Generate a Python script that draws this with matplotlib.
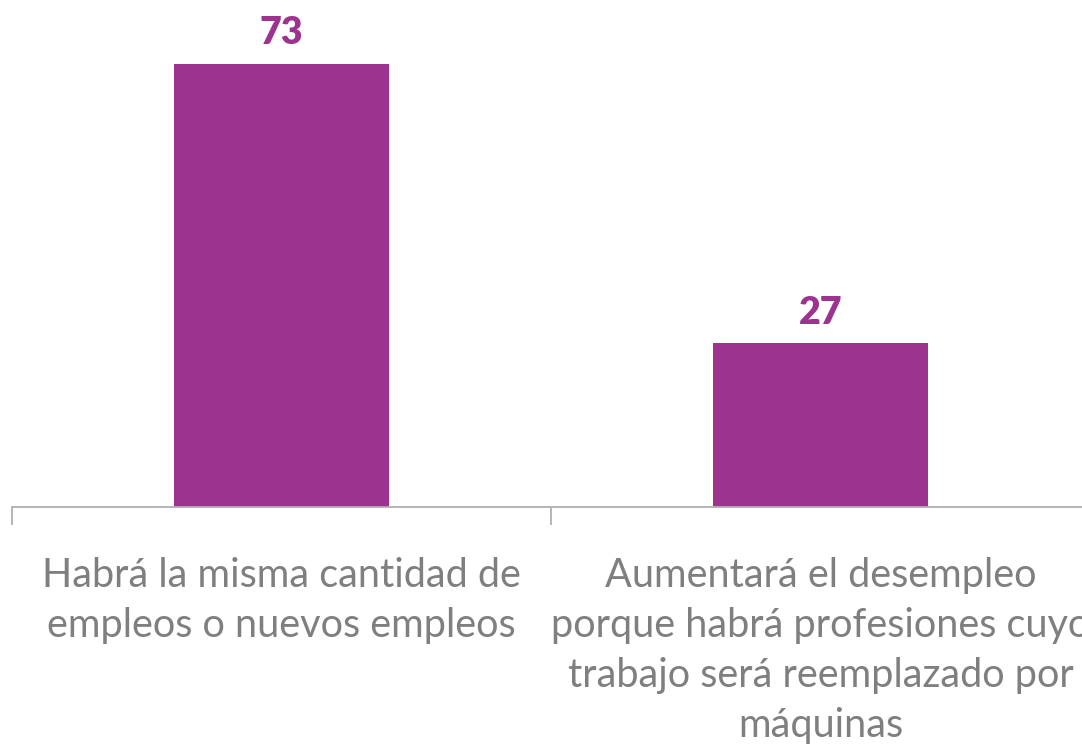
import matplotlib
matplotlib.use('Agg')
import matplotlib.pyplot as plt

plt.rcParams['font.family'] = ['Lato', 'DejaVu Sans']

categorias = ['Habrá la misma cantidad de\nempleos o nuevos empleos',
              'Aumentará el desempleo\nporque habrá profesiones cuyo\ntrabajo será reemplazado por\nmáquinas']
valores = [73, 27]

morado = '#9C338F'
gris = '#7F7F7F'

fig = plt.figure(figsize=(10.82, 7.51), dpi=100)
ax = fig.add_axes([12 / 1082, 244 / 751, 1078 / 1082, 486 / 751])

x = list(range(len(categorias)))
ax.bar(x, valores, width=0.4, color=morado, zorder=2)
for xi, v in zip(x, valores):
    ax.text(xi, v + 2.2, str(v), ha='center', va='bottom', color=morado,
            fontsize=27, fontweight='heavy')

ax.set_xlim(-0.5, 1.5)
ax.set_ylim(0, 80)
ax.set_yticks([])
ax.set_xticks([-0.5, 0.5, 1.5])
ax.set_xticklabels([])
ax.set_xticks(x, minor=True)
ax.set_xticklabels(categorias, minor=True)
ax.tick_params(axis='x', which='major', length=13, width=1.3, color='#B0B0B0')
ax.tick_params(axis='x', which='minor', length=0, pad=36, labelsize=28.5,
               labelcolor=gris)
for lbl in ax.get_xticklabels(minor=True):
    lbl.set_fontweight('normal')
    lbl.set_linespacing(1.43)
    lbl.set_va('top')

for s in ['top', 'right', 'left']:
    ax.spines[s].set_visible(False)
ax.spines['bottom'].set_color('#B0B0B0')
ax.spines['bottom'].set_linewidth(1.3)

fig.savefig('out.png', dpi=100)
